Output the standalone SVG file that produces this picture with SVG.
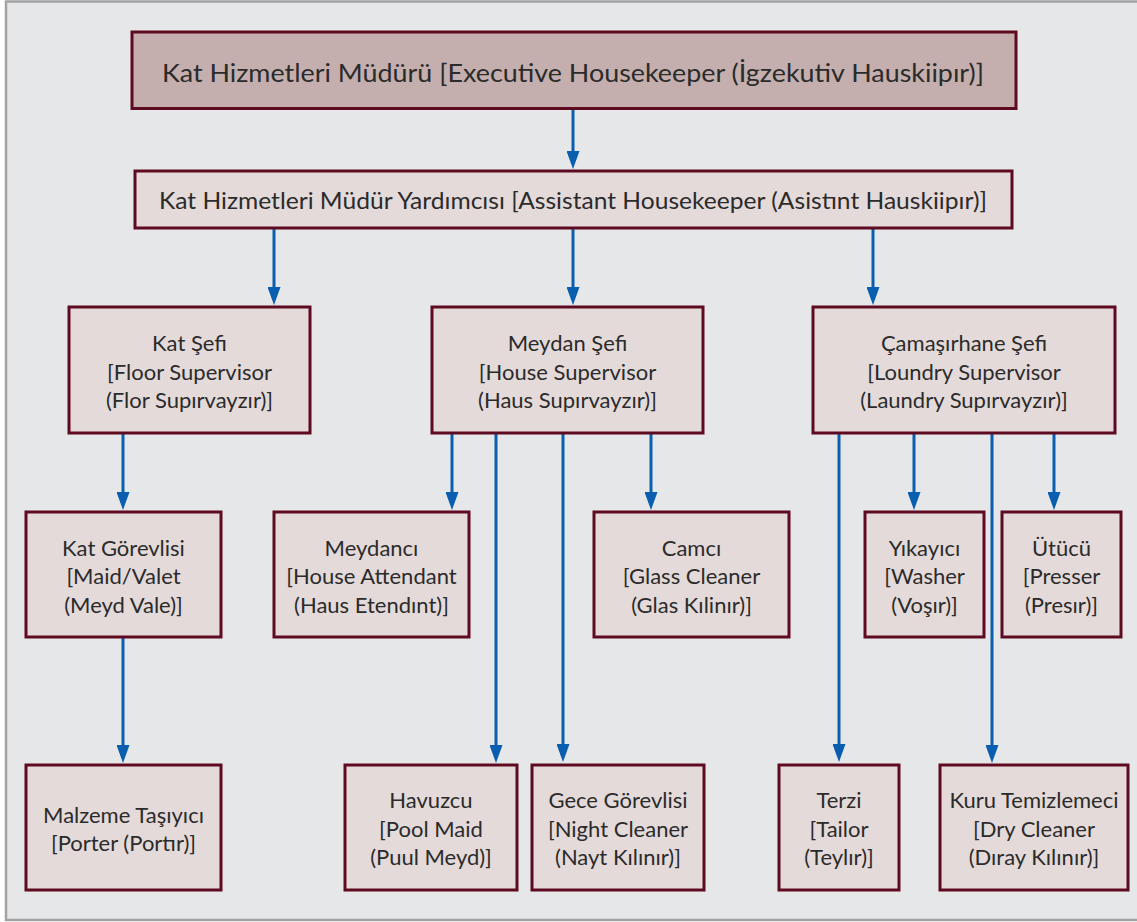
<svg xmlns="http://www.w3.org/2000/svg" width="1137" height="922" viewBox="0 0 1137 922">
<defs>
<style>
.frame{fill:#e6e7e9;stroke:#a3a3a3;stroke-width:2.5}
.box{fill:#e4dad9;stroke:#5e0b22;stroke-width:3}
.boxtop{fill:#c4afae;stroke:#5e0b22;stroke-width:3}
.conn{stroke:#0a5eb0;stroke-width:3;fill:none;marker-end:url(#ah)}
text{font-family:Lato,"Open Sans","Liberation Sans",sans-serif;fill:#2b2b2b;text-anchor:middle}
.t{font-size:22px}
</style>
<marker id="ah" viewBox="0 0 18 13" markerWidth="18" markerHeight="13" refX="10" refY="6.5" orient="auto" markerUnits="userSpaceOnUse">
<path d="M0,0 L18,6.5 L0,13 Z" fill="#0a5eb0"/>
</marker>
</defs>
<rect x="0" y="0" width="1137" height="922" fill="#ffffff"/>
<rect class="frame" x="6" y="1.5" width="1140" height="918.5"/>

<g id="connectors">
<line class="conn" x1="573" y1="110" x2="573" y2="161"/>
<line class="conn" x1="274" y1="229" x2="274" y2="297"/>
<line class="conn" x1="573" y1="229" x2="573" y2="297"/>
<line class="conn" x1="873" y1="229" x2="873" y2="297"/>
<line class="conn" x1="123" y1="434" x2="123" y2="502"/>
<line class="conn" x1="123" y1="638" x2="123" y2="755"/>
<line class="conn" x1="452" y1="434" x2="452" y2="502"/>
<line class="conn" x1="496" y1="434" x2="496" y2="755"/>
<line class="conn" x1="563" y1="434" x2="563" y2="754"/>
<line class="conn" x1="651" y1="434" x2="651" y2="502"/>
<line class="conn" x1="839" y1="434" x2="839" y2="754"/>
<line class="conn" x1="914" y1="434" x2="914" y2="502"/>
<line class="conn" x1="992" y1="434" x2="992" y2="755"/>
<line class="conn" x1="1054" y1="434" x2="1054" y2="502"/>
</g>

<g id="n-exec">
<rect class="boxtop" x="132" y="32" width="884" height="76.5"/>
<text x="573" y="82" font-size="25" textLength="822" lengthAdjust="spacingAndGlyphs">Kat Hizmetleri Müdürü [Executive Housekeeper (İgzekutiv Hauskiipır)]</text>
</g>
<g id="n-assist">
<rect class="box" x="135" y="171" width="877" height="57"/>
<text x="573" y="209" font-size="23" textLength="828" lengthAdjust="spacingAndGlyphs">Kat Hizmetleri Müdür Yardımcısı [Assistant Housekeeper (Asistınt Hauskiipır)]</text>
</g>

<g id="n-katsefi">
<rect class="box" x="69" y="307" width="241" height="126"/>
<text class="t" x="189.5" y="351">Kat Şefi</text>
<text class="t" x="189.5" y="380">[Floor Supervisor</text>
<text class="t" x="189.5" y="408">(Flor Supırvayzır)]</text>
</g>
<g id="n-meydansefi">
<rect class="box" x="432" y="307" width="271" height="126"/>
<text class="t" x="567.5" y="351">Meydan Şefi</text>
<text class="t" x="567.5" y="380">[House Supervisor</text>
<text class="t" x="567.5" y="408">(Haus Supırvayzır)]</text>
</g>
<g id="n-camasirsefi">
<rect class="box" x="813" y="307" width="302" height="126"/>
<text class="t" x="964" y="351">Çamaşırhane Şefi</text>
<text class="t" x="964" y="380">[Loundry Supervisor</text>
<text class="t" x="964" y="408">(Laundry Supırvayzır)]</text>
</g>

<g id="n-katgorevlisi">
<rect class="box" x="26" y="512" width="195" height="125"/>
<text class="t" x="123.5" y="556">Kat Görevlisi</text>
<text class="t" x="123.5" y="584">[Maid/Valet</text>
<text class="t" x="123.5" y="613">(Meyd Vale)]</text>
</g>
<g id="n-meydanci">
<rect class="box" x="274" y="512" width="195" height="125"/>
<text class="t" x="371.5" y="556">Meydancı</text>
<text class="t" x="371.5" y="584">[House Attendant</text>
<text class="t" x="371.5" y="613">(Haus Etendınt)]</text>
</g>
<g id="n-camci">
<rect class="box" x="594" y="512" width="195" height="125"/>
<text class="t" x="691.5" y="556">Camcı</text>
<text class="t" x="691.5" y="584">[Glass Cleaner</text>
<text class="t" x="691.5" y="613">(Glas Kılinır)]</text>
</g>
<g id="n-yikayici">
<rect class="box" x="865" y="512" width="119" height="125"/>
<text class="t" x="924.5" y="556">Yıkayıcı</text>
<text class="t" x="924.5" y="584">[Washer</text>
<text class="t" x="924.5" y="613">(Voşır)]</text>
</g>
<g id="n-utucu">
<rect class="box" x="1002" y="512" width="119" height="125"/>
<text class="t" x="1061.5" y="556">Ütücü</text>
<text class="t" x="1061.5" y="584">[Presser</text>
<text class="t" x="1061.5" y="613">(Presır)]</text>
</g>

<g id="n-malzeme">
<rect class="box" x="26" y="765" width="195" height="125"/>
<text class="t" x="123.5" y="823">Malzeme Taşıyıcı</text>
<text class="t" x="123.5" y="851">[Porter (Portır)]</text>
</g>
<g id="n-havuzcu">
<rect class="box" x="345" y="765" width="172" height="125"/>
<text class="t" x="431" y="808">Havuzcu</text>
<text class="t" x="431" y="837">[Pool Maid</text>
<text class="t" x="431" y="865">(Puul Meyd)]</text>
</g>
<g id="n-gece">
<rect class="box" x="532" y="765" width="172" height="125"/>
<text class="t" x="618" y="808">Gece Görevlisi</text>
<text class="t" x="618" y="837">[Night Cleaner</text>
<text class="t" x="618" y="865">(Nayt Kılınır)]</text>
</g>
<g id="n-terzi">
<rect class="box" x="779" y="765" width="120" height="125"/>
<text class="t" x="839" y="808">Terzi</text>
<text class="t" x="839" y="837">[Tailor</text>
<text class="t" x="839" y="865">(Teylır)]</text>
</g>
<g id="n-kuru">
<rect class="box" x="940" y="765" width="188" height="125"/>
<text class="t" x="1034" y="808">Kuru Temizlemeci</text>
<text class="t" x="1034" y="837">[Dry Cleaner</text>
<text class="t" x="1034" y="865">(Dıray Kılınır)]</text>
</g>
</svg>
